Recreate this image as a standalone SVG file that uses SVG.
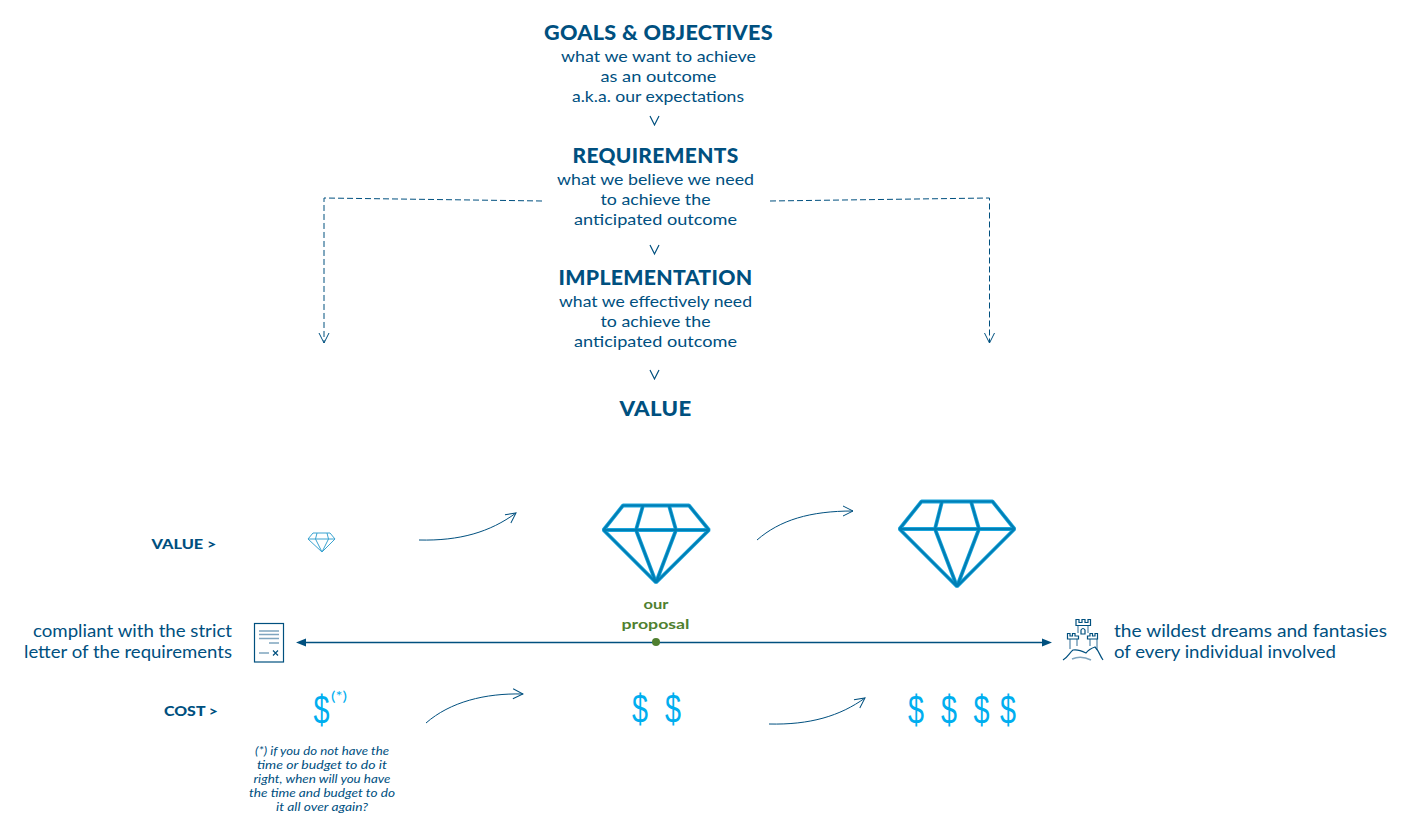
<svg xmlns="http://www.w3.org/2000/svg" width="1408" height="838" viewBox="0 0 1408 838">
<style>
text{font-family:"Lato","Open Sans","Liberation Sans",sans-serif;fill:#00507f;text-anchor:middle}
.h{font-size:21px;font-weight:900;letter-spacing:.3px}
.b{font-size:16px}
.l{font-size:17px;text-anchor:start}
.r{font-size:17px;text-anchor:end}
.s{font-size:14px;font-weight:900}
.g{font-size:14px;font-weight:700;fill:#4f7f2f}
.n{font-size:11px;font-style:italic}
.d{font-family:"Liberation Sans",sans-serif;font-size:40px;fill:#00aeef}
.c{fill:none;stroke:#00507f;stroke-width:1}
.dash{fill:none;stroke:#00507f;stroke-width:1;stroke-dasharray:6 3}
.v{fill:none;stroke:#00507f;stroke-width:1.2}
.gem{fill:none;stroke:#1aa5dc;stroke-width:3.8;stroke-linejoin:bevel}
.gemc{fill:none;stroke:#007fb5;stroke-width:2.2;stroke-linejoin:bevel}
.gems{fill:none;stroke:#3aa3d0;stroke-width:1}
.ic{fill:none;stroke:#00507f;stroke-width:1.2}
.icl{fill:none;stroke:#7fa5bf;stroke-width:1.6}
</style>
<defs>
<marker id="open" viewBox="0 0 12 12" refX="11" refY="6" markerWidth="12" markerHeight="12" markerUnits="userSpaceOnUse" orient="auto"><path d="M1 1L11 6L1 11" fill="none" stroke="#00507f" stroke-width="1"/></marker>
<path id="gm" d="M623 505.500H689L709 530L656 582.500L603.500 530ZM603.500 530H709M643 505.500L636 530L656 582.500L676 530L669 505.500"/>
<path id="gl" d="M921.500 501.500H992.500L1014.500 529L957 586.500L899.500 529ZM899.500 529H1014.500M942 501.500L935 529L957 586.500L979 529L971 501.500"/>
</defs>
<g id="goals"><text class="h" x="658.500" y="40" textLength="229" lengthAdjust="spacingAndGlyphs">GOALS &amp; OBJECTIVES</text><text class="b" x="658.500" y="62" textLength="195" lengthAdjust="spacingAndGlyphs">what we want to achieve</text><text class="b" x="658.500" y="82" textLength="116" lengthAdjust="spacingAndGlyphs">as an outcome</text><text class="b" x="658" y="102" textLength="172" lengthAdjust="spacingAndGlyphs">a.k.a. our expectations</text></g>
<g id="requirements"><text class="h" x="655.500" y="163" textLength="166" lengthAdjust="spacingAndGlyphs">REQUIREMENTS</text><text class="b" x="655.500" y="185" textLength="197" lengthAdjust="spacingAndGlyphs">what we believe we need</text><text class="b" x="655.500" y="205" textLength="110" lengthAdjust="spacingAndGlyphs">to achieve the</text><text class="b" x="655.500" y="225" textLength="163" lengthAdjust="spacingAndGlyphs">anticipated outcome</text></g>
<g id="implementation"><text class="h" x="655.500" y="285" textLength="194" lengthAdjust="spacingAndGlyphs">IMPLEMENTATION</text><text class="b" x="655.500" y="307" textLength="193" lengthAdjust="spacingAndGlyphs">what we effectively need</text><text class="b" x="655.500" y="327" textLength="110" lengthAdjust="spacingAndGlyphs">to achieve the</text><text class="b" x="655.500" y="347" textLength="163" lengthAdjust="spacingAndGlyphs">anticipated outcome</text></g>
<g id="value-title"><text class="h" x="655.500" y="416" textLength="72" lengthAdjust="spacingAndGlyphs">VALUE</text></g>
<g id="connectors">
<path class="v" d="M650 116L654.500 125L659 116M650 245L654.500 254L659 245M650 370L654.500 379L659 370"/>
<path class="dash" d="M542 201L508 200.500L324 198V343" marker-end="url(#open)"/>
<path class="dash" d="M770 201L989.500 198V343" marker-end="url(#open)"/>
<path class="c" d="M419 540C460 541 490 532 516 513" marker-end="url(#open)"/>
<path class="c" d="M757 540C780 520 810 511 853 511" marker-end="url(#open)"/>
<path class="c" d="M426 723C450 702 485 693 523 694" marker-end="url(#open)"/>
<path class="c" d="M769 724C810 725 840 716 865 698" marker-end="url(#open)"/>
<path fill="none" stroke="#00507f" stroke-width="1.300" d="M300 642.500H1048"/>
<path d="M296 642.500L306 638.500V646.500Z M1052 642.500L1042 638.500V646.500Z" fill="#00507f"/>
</g>
<g id="value-label"><text class="s" x="184" y="549" textLength="65" lengthAdjust="spacingAndGlyphs">VALUE &gt;</text></g>
<g id="gem-small"><path class="gems" d="M313 533H330L335 539L322 552L308 539ZM308 539H335M317 533L315.500 539L322 552L328.500 539L327 533"/></g>
<g id="gem-medium"><use href="#gm" class="gem"/><use href="#gm" class="gemc"/></g>
<g id="gem-large"><use href="#gl" class="gem"/><use href="#gl" class="gemc"/></g>
<g id="proposal"><text class="g" x="656" y="609" textLength="25" lengthAdjust="spacingAndGlyphs">our</text><text class="g" x="655.500" y="629" textLength="68" lengthAdjust="spacingAndGlyphs">proposal</text><circle cx="656" cy="642" r="4" fill="#4f7f2f"/></g>
<g id="compliant"><text class="r" x="232" y="637" textLength="199" lengthAdjust="spacingAndGlyphs">compliant with the strict</text><text class="r" x="232" y="658" textLength="208" lengthAdjust="spacingAndGlyphs">letter of the requirements</text>
<rect class="ic" x="254.500" y="623.500" width="29" height="38.500"/><path class="icl" d="M259 631H279M259 634.500H279M259 638.500H279M269 643H279M259 653H269"/><path class="ic" d="M273 650.500L278 655.500M278 650.500L273 655.500"/></g>
<g id="wildest"><text class="l" x="1114" y="637" textLength="273" lengthAdjust="spacingAndGlyphs">the wildest dreams and fantasies</text><text class="l" x="1114" y="658" textLength="222" lengthAdjust="spacingAndGlyphs">of every individual involved</text>
<path class="icl" d="M1070 639V649M1077 639V646M1090 639V646M1097 639V650M1072 659Q1081 655 1091 660M1078 626V633M1088 626V633"/>
<path class="ic" d="M1076 625.500V619.500H1079V622.500H1082V619.500H1085V622.500H1088V619.500H1090.500V625.500ZM1067.500 639V633.500H1070V636H1072.500V633.500H1075V636H1078.500V639ZM1087.500 639V636H1090V633.500H1092.500V636H1095V633.500H1097.500V639ZM1081 634V630Q1083 627 1085 630V634ZM1063 660C1068 657 1070 652 1073 650C1078 649 1082 651 1086 653C1089 649 1092 648 1095 647C1099 651 1100 656 1103 660"/>
</g>
<g id="cost-label"><text class="s" x="191" y="716" textLength="54" lengthAdjust="spacingAndGlyphs">COST &gt;</text></g>
<g id="cost-one"><text class="d" x="321.500" y="724" textLength="16" lengthAdjust="spacingAndGlyphs">$</text><text x="339" y="701" font-size="13" style="fill:#00aeef" textLength="16" lengthAdjust="spacingAndGlyphs">(*)</text></g>
<g id="cost-two"><text class="d" x="640" y="723" textLength="16" lengthAdjust="spacingAndGlyphs">$</text><text class="d" x="673" y="723" textLength="16" lengthAdjust="spacingAndGlyphs">$</text></g>
<g id="cost-four"><text class="d" x="916" y="724" textLength="16" lengthAdjust="spacingAndGlyphs">$</text><text class="d" x="949" y="724" textLength="16" lengthAdjust="spacingAndGlyphs">$</text><text class="d" x="981.500" y="724" textLength="16" lengthAdjust="spacingAndGlyphs">$</text><text class="d" x="1008" y="724" textLength="16" lengthAdjust="spacingAndGlyphs">$</text></g>
<g id="footnote"><text class="n" x="322" y="755" textLength="134" lengthAdjust="spacingAndGlyphs">(*) if you do not have the</text><text class="n" x="322" y="769" textLength="130" lengthAdjust="spacingAndGlyphs">time or budget to do it</text><text class="n" x="322" y="783" textLength="137" lengthAdjust="spacingAndGlyphs">right, when will you have</text><text class="n" x="322" y="797" textLength="146" lengthAdjust="spacingAndGlyphs">the time and budget to do</text><text class="n" x="322" y="811" textLength="92" lengthAdjust="spacingAndGlyphs">it all over again?</text></g>
</svg>
